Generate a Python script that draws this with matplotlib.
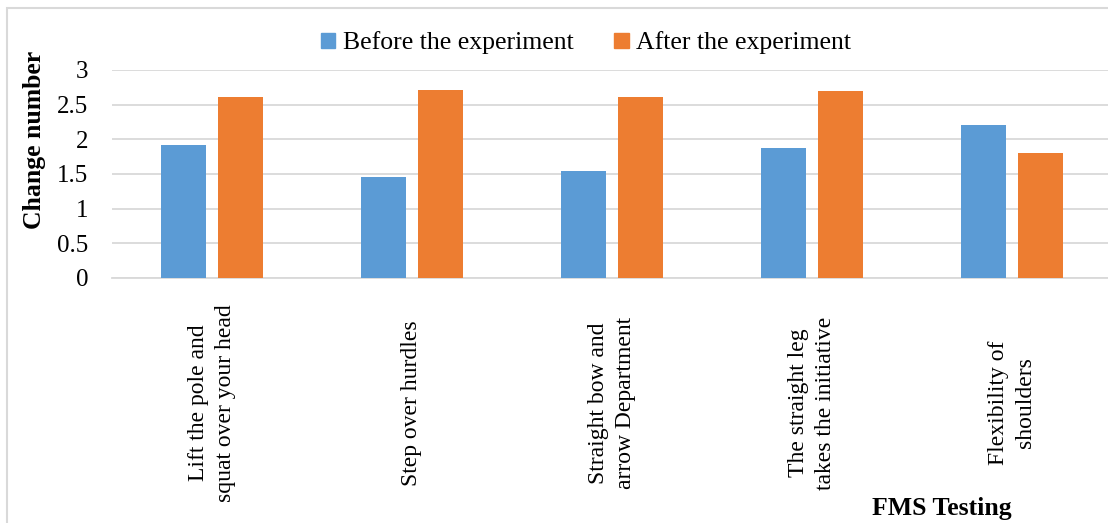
import numpy as np
import matplotlib
matplotlib.use("Agg")
import matplotlib.pyplot as plt
from matplotlib.patches import Rectangle, Patch

plt.rcParams['font.family'] = ['Liberation Serif', 'DejaVu Serif']

categories = ["Lift the pole and\nsquat over your head",
              "Step over hurdles",
              "Straight bow and\narrow Department",
              "The straight leg\ntakes the initiative",
              "Flexibility of\nshoulders"]
before = [1.92, 1.45, 1.55, 1.87, 2.21]
after = [2.61, 2.71, 2.61, 2.69, 1.81]
series_names = ["Before the experiment", "After the experiment"]
yticks = [0, 0.5, 1, 1.5, 2, 2.5, 3]
ytick_labels = ["0", "0.5", "1", "1.5", "2", "2.5", "3"]

blue = "#5b9bd5"
orange = "#ed7d31"
grid_c = "#d9d9d9"

W, H = 1108, 523
fig = plt.figure(figsize=(W / 100, H / 100), dpi=100)
ax = fig.add_axes([112 / W, 245 / H, 1000 / W, 208 / H])

x = np.arange(len(categories))
bw = 0.225
off = 0.1425
ax.bar(x - off, before, bw, color=blue, zorder=3)
ax.bar(x + off, after, bw, color=orange, zorder=3)

ax.set_xlim(-0.5, len(categories) - 0.5)
ax.set_ylim(0, 3)
ax.set_yticks(yticks)
ax.set_yticklabels(ytick_labels, fontsize=18)
ax.yaxis.grid(True, color=grid_c, linewidth=1.3, zorder=0)
ax.set_axisbelow(True)
for s in ["top", "right", "left"]:
    ax.spines[s].set_visible(False)
ax.spines["bottom"].set_color(grid_c)
ax.spines["bottom"].set_linewidth(1.3)
ax.tick_params(axis="y", length=0, pad=17)
ax.tick_params(axis="x", length=0, pad=90)
ax.set_xticks(x)
ax.set_xticklabels(categories, rotation=90, fontsize=17, va="center",
                   ha="center", multialignment="center", linespacing=1.35)

fig.text(35 / W, 1 - 140 / H, "Change number", rotation=90, fontsize=18.5,
         fontweight="bold", ha="center", va="center")
fig.text(942 / W, 1 - 508 / H, "FMS Testing", fontsize=18.5,
         fontweight="bold", ha="center", va="center")

handles = [Patch(color=blue), Patch(color=orange)]
fig.legend(handles, series_names, loc="center", bbox_to_anchor=(586 / W, 1 - 43 / H),
           ncol=2, frameon=False, fontsize=18.5, handlelength=0.55, handleheight=0.55,
           handletextpad=0.3, columnspacing=1.6)

fig.patches.append(Rectangle((7 / W, -0.1), 1.2, 0.1 + (H - 8) / H,
                             transform=fig.transFigure, fill=False,
                             edgecolor=grid_c, linewidth=1.5))

fig.savefig("out.png", dpi=100)
